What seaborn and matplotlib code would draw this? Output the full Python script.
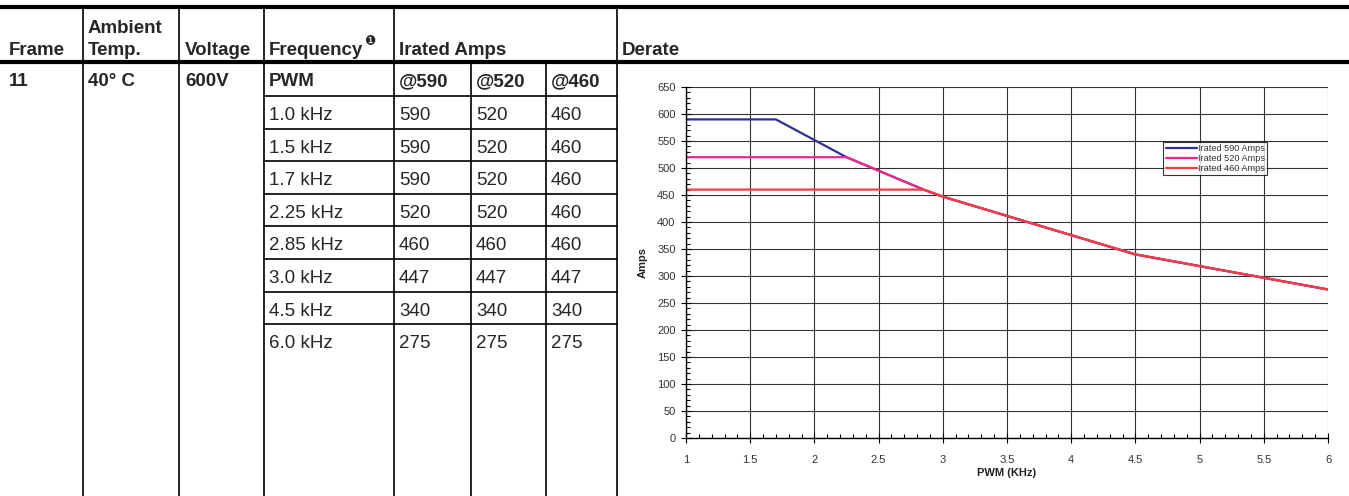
import pandas as pd
import seaborn as sns
import matplotlib.pyplot as plt
from matplotlib.lines import Line2D
from matplotlib.ticker import MultipleLocator, FuncFormatter

# table / chart data
pwm_khz = [1.0, 1.5, 1.7, 2.25, 2.85, 3.0, 4.5, 6.0]
freq_labels = ['1.0 kHz', '1.5 kHz', '1.7 kHz', '2.25 kHz', '2.85 kHz', '3.0 kHz', '4.5 kHz', '6.0 kHz']
amps_590 = [590, 590, 590, 520, 460, 447, 340, 275]
amps_520 = [520, 520, 520, 520, 460, 447, 340, 275]
amps_460 = [460, 460, 460, 460, 460, 447, 340, 275]
series_names = ['Irated 590 Amps', 'Irated 520 Amps', 'Irated 460 Amps']
series_colors = ['#2e3192', '#ec268f', '#ef3e42']
header_top = ['', 'Ambient', '', '', '', '']
header_bot = ['Frame', 'Temp.', 'Voltage', 'Frequency', 'Irated Amps', 'Derate']
first_row = ['11', '40° C', '600V', 'PWM', '@590', '@520', '@460']

sns.set_style('white')
plt.rcParams['font.family'] = ['Liberation Sans', 'DejaVu Sans']

W, H = 1349, 496
fig = plt.figure(figsize=(W / 100, H / 100), dpi=100)


def fx(x):
    return x / W


def fy(y):
    return 1 - y / H


def hline(y, x0, x1, lw):
    fig.add_artist(Line2D([fx(x0), fx(x1)], [fy(y), fy(y)], color='black', lw=lw))


def vline(x, y0, y1, lw=1.2):
    fig.add_artist(Line2D([fx(x), fx(x)], [fy(y0), fy(y1)], color='black', lw=lw))


# table grid
hline(7, 0, W, 3)
hline(62, 0, W, 3)
for x in [83, 179, 264, 394, 617]:
    vline(x, 7, H)
for x in [471, 546]:
    vline(x, 62, H)
row_h = 32.6
for i in range(len(freq_labels)):
    hline(96 + i * row_h, 264, 617, 1.2)

col_x = [9, 88, 185, 269, 399, 476, 551]
head_x = [9, 88, 185, 269, 399, 622]

# header text
for cx, t in zip(head_x, header_top):
    if t:
        fig.text(fx(cx), fy(33), t, weight='bold', fontsize=13.5, va='baseline')
for cx, t in zip(head_x, header_bot):
    fig.text(fx(cx), fy(55), t, weight='bold', fontsize=13.5, va='baseline')
fig.text(fx(364), fy(45), '\u2776', family=['DejaVu Sans'], fontsize=9, va='baseline')

# first row
for cx, t in zip(col_x, first_row):
    fig.text(fx(cx), fy(86), t, weight='bold', fontsize=13.5, va='baseline')

# body rows
for i, lab in enumerate(freq_labels):
    y = 120 + i * row_h
    fig.text(fx(269), fy(y), lab, fontsize=13.5, va='baseline')
    for cx, v in zip(col_x[4:], [amps_590[i], amps_520[i], amps_460[i]]):
        fig.text(fx(cx), fy(y), str(v), fontsize=13.5, va='baseline')

# derate chart
rows = []
for name, vals in zip(series_names, [amps_590, amps_520, amps_460]):
    for k, a in zip(pwm_khz, vals):
        rows.append({'pwm': k, 'amps': a, 'series': name})
df = pd.DataFrame(rows)

ax = fig.add_axes([fx(686), fy(438), fx(1328) - fx(686), fy(87) - fy(438)])
sns.lineplot(data=df, x='pwm', y='amps', hue='series', hue_order=series_names,
             palette=dict(zip(series_names, series_colors)), linewidth=1.6, ax=ax, sort=False)

ax.set_xlim(1, 6)
ax.set_ylim(0, 650)
ax.xaxis.set_major_locator(MultipleLocator(0.5))
ax.xaxis.set_minor_locator(MultipleLocator(0.1))
ax.yaxis.set_major_locator(MultipleLocator(50))
ax.yaxis.set_minor_locator(MultipleLocator(10))
ax.xaxis.set_major_formatter(FuncFormatter(lambda v, p: '%g' % v))
ax.grid(True, which='major', color='#333333', lw=0.8)
ax.set_axisbelow(True)
ax.tick_params(which='major', direction='inout', length=7, width=0.8, color='black',
               labelsize=8, labelcolor='#333333')
ax.tick_params(axis='y', which='major', pad=4)
ax.tick_params(axis='x', which='major', pad=9)
ax.tick_params(which='minor', direction='in', length=3, width=0.8, color='black')
ax.xaxis.set_ticks_position('bottom')
ax.yaxis.set_ticks_position('left')
ax.tick_params(which='minor', bottom=True, left=True)
for s in ['top', 'right']:
    ax.spines[s].set_visible(False)
for s in ['left', 'bottom']:
    ax.spines[s].set_color('black')
    ax.spines[s].set_linewidth(1.0)

ax.set_xlabel('PWM (KHz)', fontsize=8, weight='bold', color='#222222')
ax.set_ylabel('Amps', fontsize=8, weight='bold', color='#222222')
ax.xaxis.set_label_coords(0.5, -0.085)
ax.yaxis.set_label_coords(-0.06, 0.5)

leg = ax.legend(loc='upper right', bbox_to_anchor=(fx(1267), fy(142)),
                bbox_transform=fig.transFigure, fontsize=6.6, frameon=True, fancybox=False,
                handlelength=3.4, labelspacing=0.1, borderpad=0.25, handletextpad=0.1,
                borderaxespad=0)
leg.get_frame().set_edgecolor('black')
leg.get_frame().set_linewidth(0.8)
for t in leg.get_texts():
    t.set_color('#333333')

fig.savefig('out.png', dpi=100)
